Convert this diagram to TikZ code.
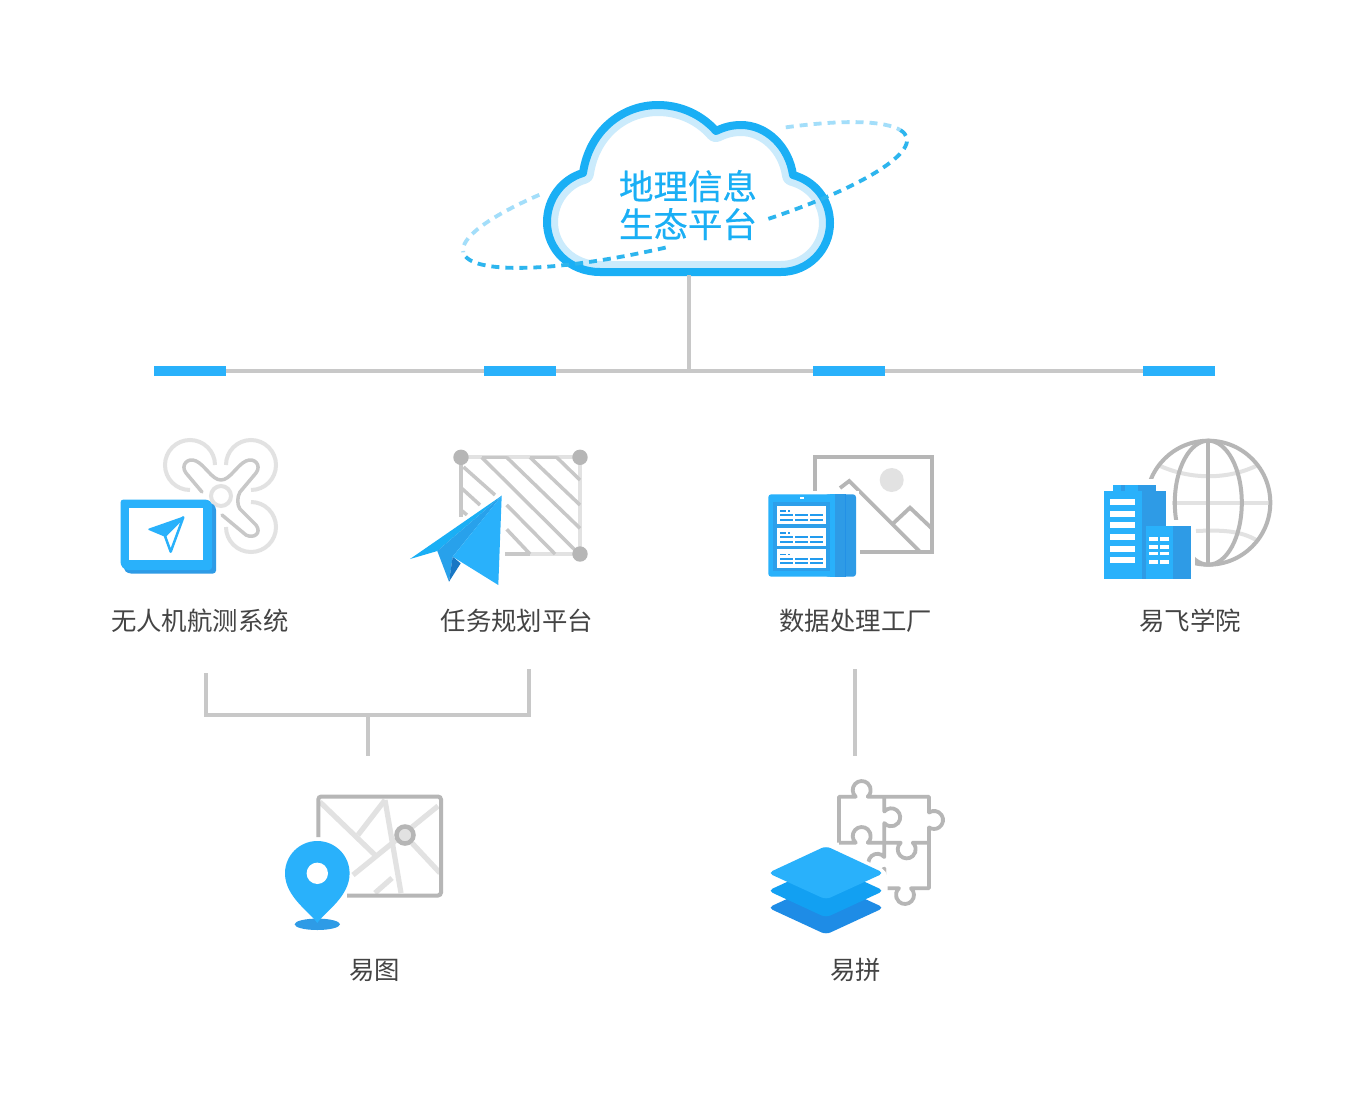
\documentclass[tikz,border=0pt]{standalone}
\usepackage{fontspec}
\setmainfont{Noto Sans CJK SC}
\newfontfamily\cloudfont[FakeBold=0.4]{Noto Sans CJK SC}
\definecolor{skyb}{HTML}{29B1FB}
\definecolor{cloudb}{HTML}{1AAFF5}
\definecolor{cloudl}{HTML}{CBEBFC}
\definecolor{dashb}{HTML}{2DB5EE}
\definecolor{dashl}{HTML}{A3DEFA}
\definecolor{midb}{HTML}{2E9BE6}
\definecolor{deepb}{HTML}{1E8CE6}
\definecolor{stackm}{HTML}{12A0F2}
\definecolor{lineg}{HTML}{C8C8C8}
\definecolor{iconG}{HTML}{B6B6B6}
\definecolor{iconL}{HTML}{E2E2E2}
\definecolor{txt}{HTML}{444444}
\tikzset{
  link/.style={draw=lineg,line width=4pt},
  bar/.style={fill=skyb,draw=none,minimum width=72pt,minimum height=10pt,inner sep=0pt},
  lab/.style={text=txt,font=\fontsize{25.4}{28}\selectfont,inner sep=0pt},
  gline/.style={draw=iconG,line width=3.8pt},
  lline/.style={draw=iconL,line width=4pt},
  hatch/.style={draw=lineg,line width=3.5pt},
  orbit/.style={line width=3.8pt,dash pattern=on 8pt off 6pt},
}
\def\cloudpath{(600,-272) .. controls (570,-272) and (547,-250) .. (547,-222)
 .. controls (547,-199) and (562,-179) .. (583,-173)
 .. controls (589,-132) and (621,-105) .. (658,-105)
 .. controls (681,-105) and (702,-115) .. (716,-131)
 .. controls (724,-127) and (732,-125) .. (741,-125)
 .. controls (767,-125) and (789,-147) .. (793,-175)
 .. controls (815,-181) and (830,-200) .. (830,-223)
 .. controls (830,-250) and (808,-272) .. (781,-272) -- cycle}
\begin{document}
\begin{tikzpicture}[x=1pt,y=1pt]
\useasboundingbox (0,0) rectangle (1366,-1114);
\fill[white] (0,0) rectangle (1366,-1114);

% orbit, back part
\begin{scope}[shift={(685,-195)},rotate=14.5]
  \draw[orbit,draw=dashl] ({229*cos(60)},{46.5*sin(60)}) arc[start angle=60,end angle=11,x radius=229,y radius=46.5];
  \draw[orbit,draw=dashl] ({229*cos(128)},{46.5*sin(128)}) arc[start angle=128,end angle=180,x radius=229,y radius=46.5];
\end{scope}

% cloud
\fill[white] \cloudpath;
\begin{scope}
  \clip \cloudpath;
  \draw[cloudl,line width=22pt,line join=round] \cloudpath;
\end{scope}
\draw[cloudb,line width=8pt,line join=round] \cloudpath;

% orbit, front part
\begin{scope}[shift={(685,-195)},rotate=14.5]
  \draw[orbit,draw=dashb] ({229*cos(11)},{46.5*sin(11)}) arc[start angle=11,end angle=-72,x radius=229,y radius=46.5];
  \draw[orbit,draw=dashb] ({229*cos(-98)},{46.5*sin(-98)}) arc[start angle=-98,end angle=-180,x radius=229,y radius=46.5];
\end{scope}

\node[align=center,text=cloudb,font=\cloudfont\fontsize{34.5}{38}\selectfont,inner sep=0pt] (cloudtext) at (688,-205) {地理信息\\生态平台};

% tree
\coordinate (cloudbot) at (689,-275);
\node[bar] (bara) at (190,-371) {};
\node[bar] (barb) at (520,-371) {};
\node[bar] (barc) at (849,-371) {};
\node[bar] (bard) at (1179,-371) {};
\draw[link] (bara) -- (bard);
\draw[link] (cloudbot) -- (cloudbot |- bara);
\node[bar] at (bara) {};
\node[bar] at (barb) {};
\node[bar] at (barc) {};
\node[bar] at (bard) {};

% labels
\node[lab] (la) at (200,-621) {无人机航测系统};
\node[lab] (lb) at (516.8,-621) {任务规划平台};
\node[lab] (lc) at (855.6,-621) {数据处理工厂};
\node[lab] (ld) at (1190,-621) {易飞学院};
\node[lab] (le) at (374.5,-970) {易图};
\node[lab] (lf) at (855.5,-970) {易拼};

% lower connectors
\coordinate (ba) at (206,-673);
\coordinate (bb) at (529,-669);
\coordinate (bm) at (368,-715);
\coordinate (bs) at (368,-756);
\coordinate (ca) at (855,-669);
\coordinate (cb) at (855,-756);
\draw[link] (ba) |- (bm) -| (bb);
\draw[link] (bm) -- (bs);
\draw[link] (ca) -- (cb);

% ---- drone + tablet
\begin{scope}
\draw[draw=iconL,line width=4pt] (215,-465) arc[start angle=0,end angle=270,radius=25];
\draw[draw=iconL,line width=4pt] (226,-465) arc[start angle=180,end angle=-90,radius=25];
\draw[draw=iconL,line width=4pt] (251,-502) arc[start angle=90,end angle=-180,radius=25];
\draw[draw=iconL,line width=4pt] (221,-496) circle[radius=10];
\draw[draw=lineg,line width=3.5pt,line cap=round,line join=round]
  (202,-492) -- (186,-473) .. controls (180,-465) and (188,-457) .. (196,-461)
  .. controls (205,-465) and (212,-480) .. (221,-480)
  .. controls (230,-480) and (237,-465) .. (246,-461)
  .. controls (254,-457) and (262,-465) .. (256,-473)
  -- (240,-492)
  .. controls (237,-497) and (237,-505) .. (240,-509)
  -- (256,-525) .. controls (262,-533) and (254,-539) .. (246,-535)
  -- (222,-515);
\fill[midb,rounded corners=3pt] (124,-503) -- (212,-503) -- (216,-507) -- (216,-573.5) -- (128,-573.5) -- (124,-570) -- cycle;
\fill[skyb,rounded corners=3pt] (120.5,-499.5) -- (208,-499.5) -- (212,-503) -- (212,-570) -- (125,-570) -- (120.5,-565) -- cycle;
\fill[white] (129,-508.3) rectangle (202.7,-560);
\fill[skyb,draw=skyb,line width=1.5pt,line join=round] (183.3,-517.3) -- (149,-529.3) -- (165,-536) -- cycle;
\draw[skyb,line width=2.5pt,line join=round] (183.3,-517.3) -- (165,-536) -- (170.7,-551.7) -- cycle;
\end{scope}

% ---- planning
\begin{scope}
\draw[lline] (461,-457.3) -- (580,-457.3) -- (580,-554) -- (505,-554);
\draw[hatch] (461,-457.3) -- (461,-517);
\draw[hatch] (505,-554) -- (530,-554);
\draw[hatch] (482,-457.3) -- (507,-457.3);
\draw[hatch] (530,-457.3) -- (557,-457.3);
\draw[hatch] (463.5,-467) -- (495,-495);
\draw[hatch] (461.7,-488.3) -- (480,-505);
\draw[hatch] (461,-510) -- (467,-515);
\draw[hatch] (481.7,-457.3) -- (576.7,-551.7);
\draw[hatch] (506.7,-457.3) -- (580,-528.3);
\draw[hatch] (530,-457.3) -- (580,-505);
\draw[hatch] (556.7,-457.3) -- (580,-480);
\draw[hatch] (506.7,-505) -- (555,-554);
\draw[hatch] (506.7,-529.3) -- (530,-554);
\fill[iconG] (461,-457.3) circle[radius=7.7];
\fill[iconG] (580,-457.3) circle[radius=7.7];
\fill[iconG] (580,-554) circle[radius=7.7];
\draw[draw=white,line width=7pt,line join=miter,fill=white] (501.7,-495.7) -- (410,-559) -- (437.3,-551) -- (449,-581.7) -- (460.7,-563.3) -- (498.3,-585) -- cycle;
\fill[cloudb] (501.7,-495.7) -- (410,-559) -- (437.3,-551) -- cycle;
\fill[midb!70!cloudb] (501.7,-495.7) -- (437.3,-551) -- (449,-581.7) -- (452.7,-556.7) -- cycle;
\fill[deepb!85!black] (449,-581.7) -- (460.7,-563.3) -- (452.7,-556.7) -- cycle;
\fill[skyb] (501.7,-495.7) -- (452.7,-556.7) -- (498.3,-585) -- cycle;
\end{scope}

% ---- data factory
\begin{scope}
\draw[gline,miter limit=2] (815,-500) -- (815,-456.7) -- (931.7,-456.7) -- (931.7,-551.7) -- (860,-551.7);
\fill[iconL] (891.7,-480) circle[radius=12];
\draw[gline,line join=miter] (840,-488) -- (849.3,-481) -- (919.3,-551);
\draw[gline,line join=miter] (893.3,-523.3) -- (910,-507.7) -- (931.7,-528.3);
\fill[white] (765,-491) rectangle (859,-579);
\fill[midb,rounded corners=3pt] (825,-494.3) rectangle (856,-576.7);
\fill[skyb,rounded corners=3pt] (768.3,-494.3) rectangle (840,-576.7);
\fill[skyb] (830,-494.3) rectangle (835,-576.7);
\fill[midb] (835,-494.3) rectangle (845,-576.7);
\fill[deepb!70!midb] (844.6,-494.3) rectangle (845.4,-576.7);
\fill[midb!80!skyb] (773,-502) rectangle (830,-571);
\fill[white] (799.5,-497) rectangle (804,-498.7);
\foreach \t in {505.7,527.7,549.3}{
  \fill[white] (777.3,-\t) rectangle (826,{-\t-18.5});
  \fill[deepb!70!skyb] (780,{-\t-4.2}) rectangle (786,{-\t-5.8});
  \fill[deepb!70!skyb] (788,{-\t-4.2}) rectangle (790,{-\t-5.8});
  \foreach \yo in {8.5,12.8}{
    \fill[deepb!60!skyb] (780,{-\t-\yo}) rectangle (792.7,{-\t-\yo-2});
    \fill[deepb!60!skyb] (795,{-\t-\yo}) rectangle (807.7,{-\t-\yo-2});
    \fill[deepb!60!skyb] (810,{-\t-\yo}) rectangle (823.3,{-\t-\yo-2});
  }
}
\end{scope}

% ---- globe + buildings
\begin{scope}
\draw[lline] (1158,-465) .. controls (1190,-480) and (1228,-480) .. (1258,-465);
\draw[lline] (1172,-502.7) -- (1268,-502.7);
\draw[lline] (1196,-531) .. controls (1220,-530) and (1240,-530) .. (1258,-541);
\draw[draw=iconG,line width=4pt] (1208.3,-502.7) circle[radius=62];
\draw[draw=iconG,line width=4pt] (1208.3,-502.7) ellipse[x radius=33.5,y radius=62];
\draw[draw=iconG,line width=4pt] (1208.3,-440.7) -- (1208.3,-564.7);
\fill[white] (1098,-479) rectangle (1169,-585);
\fill[white] (1100,-520) rectangle (1195,-585);
\fill[skyb] (1113.3,-485) rectangle (1142,-492);
\fill[midb] (1121,-485) rectangle (1125,-492);
\fill[midb] (1138,-485) rectangle (1155.7,-492);
\fill[skyb] (1104.3,-491) rectangle (1142,-579.3);
\fill[midb] (1141.7,-491) rectangle (1165.7,-579.3);
\foreach \w in {499,510.7,522.3,534,545.7,557.3}{
  \fill[white] (1110,-\w) rectangle (1135,{-\w-6});
}
\fill[midb] (1141.7,-525.7) rectangle (1146,-579.3);
\fill[skyb] (1145.7,-525.7) rectangle (1173.5,-579.3);
\fill[midb] (1173.3,-525.7) rectangle (1191,-579.3);
\foreach \w in {537.3,545,551.7,560}{
  \fill[white] (1149.3,-\w) rectangle (1157.7,{-\w-3.7});
  \fill[white] (1160,-\w) rectangle (1169,{-\w-3.7});
}
\end{scope}

% ---- map + pin
\begin{scope}
\draw[lline,line width=5.2pt] (320,-802) -- (375,-855);
\draw[lline,line width=5.2pt] (438,-806) -- (353,-875);
\draw[lline,line width=5.2pt] (385,-800) -- (401,-893);
\draw[lline,line width=5.2pt] (385,-800) -- (358,-835);
\draw[lline,line width=5.2pt] (412,-843) -- (440,-873);
\draw[lline,line width=5.2pt] (392,-878) -- (375,-893);
\draw[gline,rounded corners=3pt,line width=4pt] (318.3,-837) -- (318.3,-796.5) -- (441,-796.5) -- (441,-895.5) -- (347,-895.5);
\draw[draw=iconG,fill=iconL,line width=4.5pt] (405,-835) circle[radius=8.5];
\fill[midb] (317.3,-924.3) ellipse[x radius=22.7,y radius=5.7];
\fill[skyb] (317.3,-923) .. controls (310,-912) and (285,-897) .. (285,-873.3)
  arc[start angle=180,end angle=0,radius=32.3]
  .. controls (349.6,-897) and (324.6,-912) .. (317.3,-923) -- cycle;
\fill[white] (317.3,-873.3) circle[radius=10.7];
\end{scope}

% ---- puzzle + layers
\begin{scope}
\draw[gline,line join=round] (839,-842.7) -- (839,-796.7) -- (855.7,-796.7)
  arc[start angle=228,end angle=-48,radius=9] -- (884.3,-796.7) -- (929,-796.7) -- (929,-812.5)
  arc[start angle=124,end angle=-124,radius=9] -- (929,-888.3) -- (911,-888.3)
  arc[start angle=48,end angle=-228,radius=9] -- (884.3,-888.3) -- (884.3,-868);
\draw[gline,line join=round] (839,-842.7) -- (855.7,-842.7)
  arc[start angle=228,end angle=-48,radius=9] -- (900.7,-842.7)
  arc[start angle=132,end angle=408,radius=9] -- (929,-842.7);
\draw[gline,line join=round] (884.3,-796.7) -- (884.3,-811.5)
  arc[start angle=140,end angle=-140,radius=9] -- (884.3,-857)
  arc[start angle=40,end angle=320,radius=9] -- (884.3,-888.3);
\draw[draw=white,line width=7pt,line join=round,fill=white,rounded corners=5pt] (768,-873) -- (826,-846) -- (884,-873) -- (884,-907.7) -- (826,-934.5) -- (768,-907.7) -- cycle;
\fill[deepb,rounded corners=5pt] (768,-907.7) -- (826,-881) -- (884,-907.7) -- (826,-934.5) -- cycle;
\fill[stackm,rounded corners=5pt] (768,-890.7) -- (826,-864) -- (884,-890.7) -- (826,-917.5) -- cycle;
\fill[skyb,rounded corners=5pt] (768,-873) -- (826,-846) -- (884,-873) -- (826,-899.5) -- cycle;
\end{scope}
\end{tikzpicture}
\end{document}
